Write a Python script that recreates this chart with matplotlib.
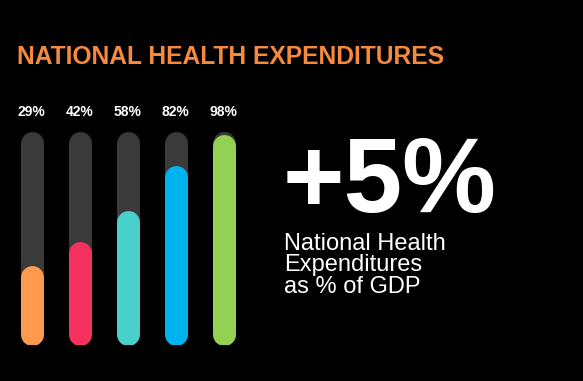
import numpy as np
import matplotlib.pyplot as plt

# values shown above the bars
labels = ["29%", "42%", "58%", "82%", "98%"]
values = [29, 42, 58, 82, 98]
colors = ["#FF9A4E", "#F5315E", "#49D0CB", "#00B3EF", "#93D152"]
track_color = "#3A3A3A"

title = "NATIONAL HEALTH EXPENDITURES"
big_number = "+5%"
caption = "National Health\nExpenditures\nas % of GDP"

W, H, dpi = 583, 381, 100
fig = plt.figure(figsize=(W / dpi, H / dpi), dpi=dpi, facecolor="black")
plt.rcParams["font.family"] = ["Liberation Sans", "DejaVu Sans"]

# axes spans the bar area in pixels (left, bottom, width, height)
ax = fig.add_axes([7.5 / W, 36 / H, 240 / W, 214 / H])
ax.set_facecolor("black")
ymin, ymax = -12.6, 100
ax.set_xlim(-0.5, len(values) - 0.5)
ax.set_ylim(ymin, ymax)
ax.axis("off")

lw_px = 23
lw = lw_px * 72 / dpi
cap = (lw_px / 2) * (ymax - ymin) / 214  # round cap size in data units

x = np.arange(len(values))
for i, v in enumerate(values):
    ax.plot([x[i], x[i]], [ymin + cap, ymax - cap], color=track_color,
            lw=lw, solid_capstyle="round")
    ax.plot([x[i], x[i]], [ymin + cap, v - cap], color=colors[i],
            lw=lw, solid_capstyle="round")
    fig.text((7.5 + (i + 0.5) * 48) / W, 1 - 112 / H, labels[i], color="white",
             fontsize=10, fontweight="bold", ha="center", va="center")

fig.text(17 / W, 1 - 57 / H, title, color="#F58A3C", fontsize=17.7,
         fontweight="bold", ha="left", va="center")
fig.text(283 / W, 1 - 212 / H, big_number, color="white", fontsize=76,
         fontweight="bold", ha="left", va="baseline")
fig.text(284 / W, 1 - 293 / H, caption, color="white", fontsize=17,
         ha="left", va="baseline", linespacing=0.98)

fig.savefig("out.png", dpi=dpi, facecolor="black")
